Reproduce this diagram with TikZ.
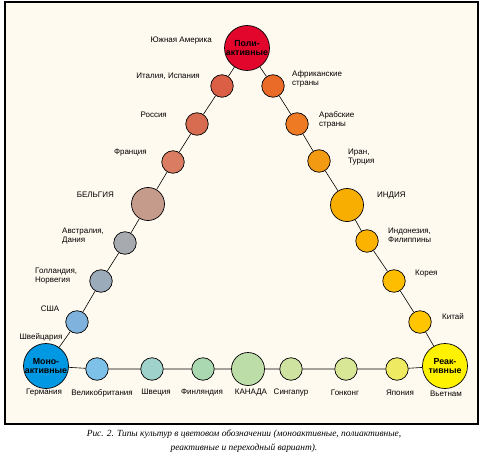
\documentclass[tikz,border=0pt]{standalone}
\usepackage{fontspec}
\setmainfont{Liberation Sans}
\newfontfamily\capfont{Liberation Serif}
\usetikzlibrary{positioning}

\definecolor{paper}{HTML}{FFFAF0}
\definecolor{cPoly}{HTML}{E2062C}
\definecolor{cIta}{HTML}{DA5F45}
\definecolor{cRus}{HTML}{D86C50}
\definecolor{cFra}{HTML}{D97C62}
\definecolor{cBel}{HTML}{C59C8C}
\definecolor{cAus}{HTML}{A7ABB0}
\definecolor{cHol}{HTML}{9BABBA}
\definecolor{cUsa}{HTML}{7FB3DD}
\definecolor{cMono}{HTML}{0098E2}
\definecolor{cGbr}{HTML}{7DC1E8}
\definecolor{cSwe}{HTML}{9FD2CB}
\definecolor{cFin}{HTML}{AAD8B0}
\definecolor{cCan}{HTML}{BDDDA8}
\definecolor{cSin}{HTML}{CEE3A0}
\definecolor{cHkg}{HTML}{D8E795}
\definecolor{cJap}{HTML}{EEEA62}
\definecolor{cReac}{HTML}{FFF200}
\definecolor{cChi}{HTML}{FFC600}
\definecolor{cKor}{HTML}{FFBD00}
\definecolor{cIdn}{HTML}{FBB300}
\definecolor{cInd}{HTML}{F7AE00}
\definecolor{cIra}{HTML}{F29A12}
\definecolor{cAra}{HTML}{EE7B24}
\definecolor{cAfr}{HTML}{EA6A28}

\begin{document}
\begin{tikzpicture}[
    x=1pt, y=-1pt,
    hub/.style={
        circle, draw, line width=0.7pt, minimum size=45pt, inner sep=0pt,
        align=center, font=\fontsize{8.8}{9.8}\selectfont\bfseries
    },
    ctry/.style={circle, draw, line width=0.7pt, minimum size=22.5pt, inner sep=0pt},
    big/.style={circle, draw, line width=0.7pt, minimum size=33pt, inner sep=0pt},
    lbl/.style={font=\fontsize{8}{9}\selectfont, inner sep=0pt, align=left},
    link/.style={line width=0.6pt}
]

% frame and page size
\useasboundingbox (0,0) rectangle (481,457);
\draw[fill=paper, line width=1.1pt] (5,2) rectangle (478,424);

% hubs
\node[hub, fill=cPoly] (poly) at (247,48) {Поли-\\активные};
\node[hub, fill=cMono] (mono) at (46,366) {Моно-\\активные};
\node[hub, fill=cReac] (reac) at (445,366) {Реак-\\тивные};

% left side
\node[ctry, fill=cIta] (ita) at (222,86) {};
\node[ctry, fill=cRus] (rus) at (197,124) {};
\node[ctry, fill=cFra] (fra) at (173,162) {};
\node[big, fill=cBel] (bel) at (148,204) {};
\node[ctry, fill=cAus] (aus) at (125,243) {};
\node[ctry, fill=cHol] (hol) at (101,281) {};
\node[ctry, fill=cUsa] (usa) at (77,322) {};

% right side
\node[ctry, fill=cAfr] (afr) at (273,86) {};
\node[ctry, fill=cAra] (ara) at (297,124) {};
\node[ctry, fill=cIra] (ira) at (319,161) {};
\node[big, fill=cInd] (ind) at (347,205) {};
\node[ctry, fill=cIdn] (idn) at (367,241) {};
\node[ctry, fill=cKor] (kor) at (394,281) {};
\node[ctry, fill=cChi] (chi) at (420,322) {};

% bottom row
\node[ctry, fill=cGbr] (gbr) at (97,369) {};
\node[ctry, fill=cSwe] (swe) at (152,369) {};
\node[ctry, fill=cFin] (fin) at (203,369) {};
\node[big, fill=cCan] (can) at (248,369) {};
\node[ctry, fill=cSin] (sin) at (291,369) {};
\node[ctry, fill=cHkg] (hkg) at (346,369) {};
\node[ctry, fill=cJap] (jap) at (397,369) {};

% links
\draw[link] (mono) -- (usa) -- (hol) -- (aus) -- (bel) -- (fra) -- (rus) -- (ita) -- (poly);
\draw[link] (poly) -- (afr) -- (ara) -- (ira) -- (ind) -- (idn) -- (kor) -- (chi) -- (reac);
\draw[link] (mono) -- (gbr) -- (swe) -- (fin) -- (can) -- (sin) -- (hkg) -- (jap) -- (reac);

% labels, left
\node[lbl, anchor=east] (l-sam) at (212,41) {Южная Америка};
\node[lbl, anchor=east] (l-ita) at (200,76) {Италия, Испания};
\node[lbl, anchor=east] (l-rus) at (167,115) {Россия};
\node[lbl, anchor=east] (l-fra) at (147,153) {Франция};
\node[lbl, anchor=east] (l-bel) at (114,195) {БЕЛЬГИЯ};
\node[lbl, anchor=west] (l-aus) at (62,236) {Австралия,\\Дания};
\node[lbl, anchor=west] (l-hol) at (35,276) {Голландия,\\Норвегия};
\node[lbl] (l-usa) at (50,309) {США};
\node[lbl] (l-swi) at (41,337) {Швейцария};

% labels, right
\node[lbl, anchor=west] (l-afr) at (292,79) {Африканские\\страны};
\node[lbl, anchor=west] (l-ara) at (319,120) {Арабские\\страны};
\node[lbl, anchor=west] (l-ira) at (348,157) {Иран,\\Турция};
\node[lbl, anchor=west] (l-ind) at (377,196) {ИНДИЯ};
\node[lbl, anchor=west] (l-idn) at (388,235) {Индонезия,\\Филиппины};
\node[lbl, anchor=west] (l-kor) at (415,274) {Корея};
\node[lbl, anchor=west] (l-chi) at (442,317) {Китай};

% labels, bottom
\node[lbl] (l-ger) at (44,393) {Германия};
\node[lbl] (l-gbr) at (102,393) {Великобритания};
\node[lbl] (l-swe) at (156,393) {Швеция};
\node[lbl] (l-fin) at (202,393) {Финляндия};
\node[lbl] (l-can) at (251,393) {КАНАДА};
\node[lbl] (l-sin) at (291,393) {Сингапур};
\node[lbl] (l-hkg) at (345,393) {Гонконг};
\node[lbl] (l-jap) at (400,393) {Япония};
\node[lbl] (l-vie) at (446,394) {Вьетнам};

% caption
\node[align=center, inner sep=0pt, font=\capfont\itshape\fontsize{9.4}{13.5}\selectfont] (caption) at (244,441)
    {Рис. 2. Типы культур в цветовом обозначении (моноактивные, полиактивные,\\
     реактивные и переходный вариант).};

\end{tikzpicture}
\end{document}
